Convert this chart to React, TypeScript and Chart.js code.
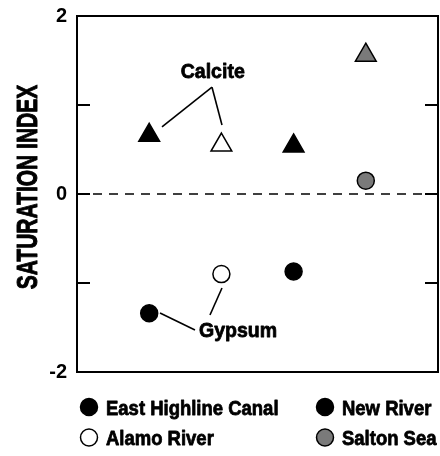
import React, { useEffect, useRef } from 'react';
import { Chart, registerables } from 'chart.js';
Chart.register(...registerables);

// ---- data ----
const sites = ['East Highline Canal', 'Alamo River', 'New River', 'Salton Sea'];
const siteX = [1, 2, 3, 4];
const calciteSI = [0.66, 0.55, 0.54, 1.56];
const gypsumSI = [-1.34, -0.9, -0.87, 0.15];
const yTickValues = [-2, -1, 0, 1, 2];
const yTickLabels = ['-2', '', '0', '', '2'];
const yTitle = 'SATURATION INDEX';
const mineralLabels = ['Calcite', 'Gypsum'];
// annotation anchors in data units
const mineralLabelX = [1.88, 2.23];
const mineralLabelY = [1.303, -1.607];
const calciteLeaders = [
  [1.87, 1.2, 1.177, 0.753],
  [1.87, 1.2, 2.008, 0.775],
];
const gypsumLeaders = [
  [1.15, -1.337, 1.634, -1.528],
  [2.008, -1.056, 1.842, -1.36],
];

// ---- style ----
const fills = ['#000000', '#ffffff', '#000000', '#7a7a7a'];
const FONT = 'Liberation Sans';

function heavyText(ctx: any, text: string, x: number, y: number, sx: number, stroke: number) {
  ctx.save();
  ctx.translate(x, y);
  ctx.scale(sx, 1);
  ctx.lineJoin = 'round';
  ctx.lineWidth = stroke;
  ctx.strokeStyle = '#000';
  ctx.fillStyle = '#000';
  ctx.strokeText(text, 0, 0);
  ctx.fillText(text, 0, 0);
  ctx.restore();
}

const decor = {
  id: 'decor',
  beforeDatasetsDraw(chart: any) {
    const { ctx, chartArea, scales } = chart;
    const { left, right, top, bottom } = chartArea;
    ctx.save();
    ctx.strokeStyle = '#000';
    ctx.lineWidth = 2;
    ctx.strokeRect(left, top, right - left, bottom - top);
    yTickValues.forEach((v) => {
      if (v === yTickValues[0] || v === yTickValues[yTickValues.length - 1]) return;
      const py = scales.y.getPixelForValue(v);
      ctx.beginPath();
      ctx.moveTo(left, py);
      ctx.lineTo(left + 13, py);
      ctx.moveTo(right - 13, py);
      ctx.lineTo(right, py);
      ctx.stroke();
    });
    ctx.restore();
  },
  afterDatasetsDraw(chart: any) {
    const { ctx, scales } = chart;
    const X = (v: number) => scales.x.getPixelForValue(v);
    const Y = (v: number) => scales.y.getPixelForValue(v);
    ctx.save();
    ctx.strokeStyle = '#000';
    ctx.lineWidth = 1.6;
    [...calciteLeaders, ...gypsumLeaders].forEach(([x1, y1, x2, y2]) => {
      ctx.beginPath();
      ctx.moveTo(X(x1), Y(y1));
      ctx.lineTo(X(x2), Y(y2));
      ctx.stroke();
    });
    ctx.font = `bold 21px "${FONT}"`;
    ctx.textAlign = 'center';
    ctx.textBaseline = 'alphabetic';
    mineralLabels.forEach((t, i) => {
      heavyText(ctx, t, X(mineralLabelX[i]), Y(mineralLabelY[i]), 0.93, 0.8);
    });
    ctx.restore();
  },
  afterDraw(chart: any) {
    const { ctx, chartArea } = chart;
    ctx.save();
    // axis title
    ctx.font = `bold 30px "${FONT}"`;
    ctx.textAlign = 'center';
    ctx.textBaseline = 'alphabetic';
    ctx.translate(26, (chartArea.top + chartArea.bottom) / 2 - 7);
    ctx.rotate(-Math.PI / 2);
    heavyText(ctx, yTitle, 0, 10.8, 0.7, 1);
    ctx.restore();

    // legend
    const colMarkerX = [89, 325];
    const colTextX = [106, 342];
    const rowY = [407, 437.5];
    const rowBase = [415, 445];
    ctx.save();
    ctx.font = `bold 21px "${FONT}"`;
    ctx.textAlign = 'left';
    ctx.textBaseline = 'alphabetic';
    chart.data.datasets.forEach((ds: any) => {
      if (!sites.includes(ds.label)) return;
      const idx = sites.indexOf(ds.label);
      const col = Math.floor(idx / 2);
      const row = idx % 2;
      ctx.beginPath();
      ctx.arc(colMarkerX[col], rowY[row], 8.5, 0, Math.PI * 2);
      ctx.fillStyle = fills[idx];
      ctx.fill();
      ctx.lineWidth = 1.5;
      ctx.strokeStyle = '#000';
      ctx.stroke();
      heavyText(ctx, ds.label, colTextX[col], rowBase[row], 0.88, 0.8);
    });
    ctx.restore();
  },
};

export default function App() {
  const ref = useRef<HTMLCanvasElement | null>(null);
  useEffect(() => {
    if (!ref.current) return;
    const datasets: any[] = sites.map((s, i) => ({
      type: 'scatter',
      label: s,
      data: [
        { x: siteX[i], y: calciteSI[i] },
        { x: siteX[i], y: gypsumSI[i] },
      ],
      pointStyle: ['triangle', 'circle'],
      pointRadius: [12, 8.5],
      pointBackgroundColor: fills[i],
      pointBorderColor: '#000',
      pointBorderWidth: 1.5,
      showLine: false,
      order: 1,
    }));
    datasets.push({
      type: 'line',
      label: 'zero',
      data: [
        { x: 0, y: 0 },
        { x: 5, y: 0 },
      ],
      borderColor: '#000',
      borderWidth: 1.5,
      borderDash: [9, 7],
      pointRadius: 0,
      fill: false,
      order: 2,
    });
    const chart = new Chart(ref.current, {
      type: 'scatter',
      data: { datasets },
      options: {
        animation: false,
        responsive: false,
        devicePixelRatio: 1,
        layout: { autoPadding: false, padding: { left: 0, right: 2, top: 16, bottom: 84 } },
        plugins: { legend: { display: false }, tooltip: { enabled: false } },
        scales: {
          x: {
            type: 'linear',
            min: 0,
            max: 5,
            display: false,
            afterFit: (s: any) => {
              s.paddingLeft = 0;
              s.paddingRight = 0;
              s.height = 0;
            },
          },
          y: {
            type: 'linear',
            min: -2,
            max: 2,
            afterBuildTicks: (s: any) => {
              s.ticks = yTickValues.map((v) => ({ value: v }));
            },
            afterFit: (s: any) => {
              s.width = 77;
              s.paddingTop = 0;
              s.paddingBottom = 0;
            },
            ticks: {
              autoSkip: false,
              padding: 10,
              color: '#000',
              font: { family: FONT, weight: 'bold', size: 20 },
              callback: (v: any) => {
                const k = yTickValues.indexOf(Number(v));
                return k >= 0 ? yTickLabels[k] : '';
              },
            },
            grid: { display: false, drawTicks: false },
            border: { display: false },
          },
        },
      },
      plugins: [decor],
    } as any);
    return () => chart.destroy();
  }, []);
  return (
    <div style={{ position: 'fixed', left: 0, top: 0, width: 440, height: 456, background: '#fff' }}>
      <canvas ref={ref} width={440} height={456} />
    </div>
  );
}
